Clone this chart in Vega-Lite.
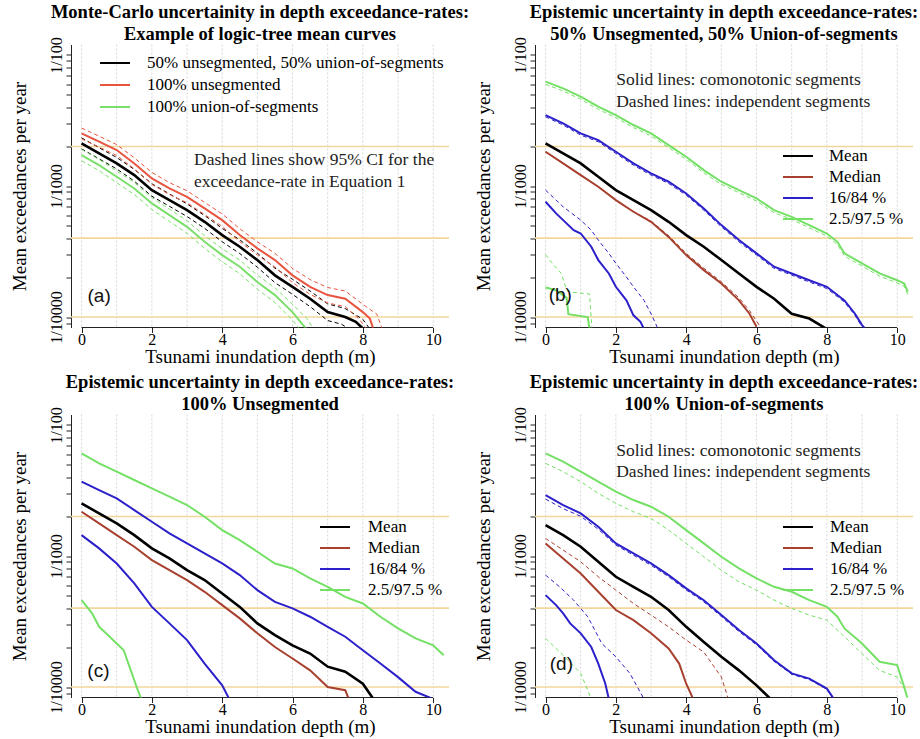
{
"$schema": "https://vega.github.io/schema/vega-lite/v6.json",
"background": "white",
"padding": {"left": 10, "top": 2.5, "right": 5, "bottom": 5},
"config": {
  "view": {"stroke": null},
  "font": "Liberation Serif",
  "title": {"font": "Liberation Serif", "fontSize": 18.5, "fontWeight": "bold", "anchor": "middle", "frame": "group", "offset": -7, "color": "#000",
            "subtitleFont": "Liberation Serif", "subtitleFontSize": 18.5, "subtitleFontWeight": "bold", "subtitleColor": "#000", "subtitlePadding": 3.5},
  "axis": {"labelFont": "Liberation Serif", "titleFont": "Liberation Serif", "domainColor": "#222", "tickColor": "#222", "labelColor": "#000", "titleColor": "#000", "titleFontWeight": "normal", "grid": false},
  "legend": {"labelFont": "Liberation Serif", "labelFontSize": 17, "labelColor": "#000", "symbolType": "stroke", "symbolSize": 900, "symbolStrokeWidth": 2, "rowPadding": 0, "padding": 0, "symbolOffset": 0, "labelLimit": 500}
},
"datasets": {
  "grid": [{"x":0},{"x":1},{"x":2},{"x":3},{"x":4},{"x":5},{"x":6},{"x":7},{"x":8},{"x":9},{"x":10}],
  "hl": [{"y":0.002},{"y":0.0004},{"y":0.0001}],
  "xl": [{"x":0,"x2":10}],
  "txt": [
    {"p":"a","x":3.2,"y":0.00158,"t":"Dashed lines show 95% CI for the"},
    {"p":"a","x":3.2,"y":0.001073,"t":"exceedance-rate in Equation 1"},
    {"p":"b","x":2.01,"y":0.00644,"t":"Solid lines: comonotonic segments"},
    {"p":"b","x":2.01,"y":0.0044,"t":"Dashed lines: independent segments"},
    {"p":"d","x":2.01,"y":0.00634,"t":"Solid lines: comonotonic segments"},
    {"p":"d","x":2.01,"y":0.00434,"t":"Dashed lines: independent segments"}
  ],
  "lab": [
    {"p":"a","x":0.5,"y":0.000145,"t":"(a)"},
    {"p":"b","x":0.42,"y":0.000147,"t":"(b)"},
    {"p":"c","x":0.48,"y":0.000132,"t":"(c)"},
    {"p":"d","x":0.45,"y":0.000149,"t":"(d)"}
  ],
  "a": [
    {"c":"m0","s":"m","k":"s","x":0,"y":0.002115},{"c":"m0","s":"m","k":"s","x":0.5,"y":0.001774},{"c":"m0","s":"m","k":"s","x":1,"y":0.001487},{"c":"m0","s":"m","k":"s","x":1.5,"y":0.001212},{"c":"m0","s":"m","k":"s","x":2,"y":0.00093},{"c":"m0","s":"m","k":"s","x":2.5,"y":0.00078},{"c":"m0","s":"m","k":"s","x":3,"y":0.000655},{"c":"m0","s":"m","k":"s","x":3.5,"y":0.000533},{"c":"m0","s":"m","k":"s","x":4,"y":0.000422},{"c":"m0","s":"m","k":"s","x":4.5,"y":0.000344},{"c":"m0","s":"m","k":"s","x":5,"y":0.000272},{"c":"m0","s":"m","k":"s","x":5.5,"y":0.000208},{"c":"m0","s":"m","k":"s","x":6,"y":0.00017},{"c":"m0","s":"m","k":"s","x":6.5,"y":0.000138},{"c":"m0","s":"m","k":"s","x":7,"y":0.000109},{"c":"m0","s":"m","k":"s","x":7.5,"y":0.0001},{"c":"m0","s":"m","k":"s","x":7.8,"y":0.000092},{"c":"m0","s":"m","k":"s","x":8,"y":0.0000818},
    {"c":"m1","s":"m","k":"d","x":0,"y":0.00233},{"c":"m1","s":"m","k":"d","x":0.5,"y":0.00196},{"c":"m1","s":"m","k":"d","x":1,"y":0.00165},{"c":"m1","s":"m","k":"d","x":1.5,"y":0.00134},{"c":"m1","s":"m","k":"d","x":2,"y":0.00104},{"c":"m1","s":"m","k":"d","x":2.5,"y":0.00087},{"c":"m1","s":"m","k":"d","x":3,"y":0.00073},{"c":"m1","s":"m","k":"d","x":3.5,"y":0.000595},{"c":"m1","s":"m","k":"d","x":4,"y":0.000475},{"c":"m1","s":"m","k":"d","x":4.5,"y":0.000388},{"c":"m1","s":"m","k":"d","x":5,"y":0.000307},{"c":"m1","s":"m","k":"d","x":5.5,"y":0.000236},{"c":"m1","s":"m","k":"d","x":6,"y":0.000194},{"c":"m1","s":"m","k":"d","x":6.5,"y":0.000158},{"c":"m1","s":"m","k":"d","x":7,"y":0.000126},{"c":"m1","s":"m","k":"d","x":7.5,"y":0.000116},{"c":"m1","s":"m","k":"d","x":8,"y":0.000096},{"c":"m1","s":"m","k":"d","x":8.2,"y":0.000081},
    {"c":"m2","s":"m","k":"d","x":0,"y":0.00192},{"c":"m2","s":"m","k":"d","x":0.5,"y":0.00161},{"c":"m2","s":"m","k":"d","x":1,"y":0.00135},{"c":"m2","s":"m","k":"d","x":1.5,"y":0.00109},{"c":"m2","s":"m","k":"d","x":2,"y":0.000835},{"c":"m2","s":"m","k":"d","x":2.5,"y":0.0007},{"c":"m2","s":"m","k":"d","x":3,"y":0.000585},{"c":"m2","s":"m","k":"d","x":3.5,"y":0.000475},{"c":"m2","s":"m","k":"d","x":4,"y":0.000375},{"c":"m2","s":"m","k":"d","x":4.5,"y":0.000305},{"c":"m2","s":"m","k":"d","x":5,"y":0.00024},{"c":"m2","s":"m","k":"d","x":5.5,"y":0.000183},{"c":"m2","s":"m","k":"d","x":6,"y":0.000149},{"c":"m2","s":"m","k":"d","x":6.5,"y":0.00012},{"c":"m2","s":"m","k":"d","x":7,"y":0.000094},{"c":"m2","s":"m","k":"d","x":7.4,"y":0.000088},{"c":"m2","s":"m","k":"d","x":7.6,"y":0.000081},
    {"c":"u0","s":"u","k":"s","x":0,"y":0.002522},{"c":"u0","s":"u","k":"s","x":0.5,"y":0.002178},{"c":"u0","s":"u","k":"s","x":1,"y":0.001881},{"c":"u0","s":"u","k":"s","x":1.5,"y":0.001487},{"c":"u0","s":"u","k":"s","x":2,"y":0.001143},{"c":"u0","s":"u","k":"s","x":2.5,"y":0.000958},{"c":"u0","s":"u","k":"s","x":3,"y":0.000827},{"c":"u0","s":"u","k":"s","x":3.5,"y":0.000674},{"c":"u0","s":"u","k":"s","x":4,"y":0.000549},{"c":"u0","s":"u","k":"s","x":4.5,"y":0.000422},{"c":"u0","s":"u","k":"s","x":5,"y":0.000334},{"c":"u0","s":"u","k":"s","x":5.5,"y":0.000272},{"c":"u0","s":"u","k":"s","x":6,"y":0.000208},{"c":"u0","s":"u","k":"s","x":6.5,"y":0.00017},{"c":"u0","s":"u","k":"s","x":7,"y":0.000147},{"c":"u0","s":"u","k":"s","x":7.5,"y":0.000138},{"c":"u0","s":"u","k":"s","x":8,"y":0.000109},{"c":"u0","s":"u","k":"s","x":8.2,"y":0.0000973},{"c":"u0","s":"u","k":"s","x":8.3,"y":0.000081},
    {"c":"u1","s":"u","k":"d","x":0,"y":0.00277},{"c":"u1","s":"u","k":"d","x":0.5,"y":0.0024},{"c":"u1","s":"u","k":"d","x":1,"y":0.00207},{"c":"u1","s":"u","k":"d","x":1.5,"y":0.00164},{"c":"u1","s":"u","k":"d","x":2,"y":0.00127},{"c":"u1","s":"u","k":"d","x":2.5,"y":0.00106},{"c":"u1","s":"u","k":"d","x":3,"y":0.00092},{"c":"u1","s":"u","k":"d","x":3.5,"y":0.00075},{"c":"u1","s":"u","k":"d","x":4,"y":0.000612},{"c":"u1","s":"u","k":"d","x":4.5,"y":0.000472},{"c":"u1","s":"u","k":"d","x":5,"y":0.000375},{"c":"u1","s":"u","k":"d","x":5.5,"y":0.000306},{"c":"u1","s":"u","k":"d","x":6,"y":0.000235},{"c":"u1","s":"u","k":"d","x":6.5,"y":0.000193},{"c":"u1","s":"u","k":"d","x":7,"y":0.000168},{"c":"u1","s":"u","k":"d","x":7.5,"y":0.000158},{"c":"u1","s":"u","k":"d","x":8,"y":0.000125},{"c":"u1","s":"u","k":"d","x":8.4,"y":0.000105},{"c":"u1","s":"u","k":"d","x":8.55,"y":0.000081},
    {"c":"u2","s":"u","k":"d","x":0,"y":0.00229},{"c":"u2","s":"u","k":"d","x":0.5,"y":0.00198},{"c":"u2","s":"u","k":"d","x":1,"y":0.00171},{"c":"u2","s":"u","k":"d","x":1.5,"y":0.00135},{"c":"u2","s":"u","k":"d","x":2,"y":0.00103},{"c":"u2","s":"u","k":"d","x":2.5,"y":0.00086},{"c":"u2","s":"u","k":"d","x":3,"y":0.000745},{"c":"u2","s":"u","k":"d","x":3.5,"y":0.000605},{"c":"u2","s":"u","k":"d","x":4,"y":0.000492},{"c":"u2","s":"u","k":"d","x":4.5,"y":0.000376},{"c":"u2","s":"u","k":"d","x":5,"y":0.000297},{"c":"u2","s":"u","k":"d","x":5.5,"y":0.000241},{"c":"u2","s":"u","k":"d","x":6,"y":0.000183},{"c":"u2","s":"u","k":"d","x":6.5,"y":0.000149},{"c":"u2","s":"u","k":"d","x":7,"y":0.000128},{"c":"u2","s":"u","k":"d","x":7.5,"y":0.00012},{"c":"u2","s":"u","k":"d","x":7.9,"y":0.000096},{"c":"u2","s":"u","k":"d","x":8.1,"y":0.000081},
    {"c":"g0","s":"g","k":"s","x":0,"y":0.001722},{"c":"g0","s":"g","k":"s","x":0.5,"y":0.001444},{"c":"g0","s":"g","k":"s","x":1,"y":0.001177},{"c":"g0","s":"g","k":"s","x":1.5,"y":0.000958},{"c":"g0","s":"g","k":"s","x":2,"y":0.000736},{"c":"g0","s":"g","k":"s","x":2.5,"y":0.0006},{"c":"g0","s":"g","k":"s","x":3,"y":0.000488},{"c":"g0","s":"g","k":"s","x":3.5,"y":0.000375},{"c":"g0","s":"g","k":"s","x":4,"y":0.000297},{"c":"g0","s":"g","k":"s","x":4.5,"y":0.000242},{"c":"g0","s":"g","k":"s","x":5,"y":0.000185},{"c":"g0","s":"g","k":"s","x":5.5,"y":0.000147},{"c":"g0","s":"g","k":"s","x":6,"y":0.000109},{"c":"g0","s":"g","k":"s","x":6.3,"y":0.0000868},{"c":"g0","s":"g","k":"s","x":6.4,"y":0.000081},
    {"c":"g1","s":"g","k":"d","x":0,"y":0.0019},{"c":"g1","s":"g","k":"d","x":0.5,"y":0.00159},{"c":"g1","s":"g","k":"d","x":1,"y":0.0013},{"c":"g1","s":"g","k":"d","x":1.5,"y":0.00106},{"c":"g1","s":"g","k":"d","x":2,"y":0.000815},{"c":"g1","s":"g","k":"d","x":2.5,"y":0.000665},{"c":"g1","s":"g","k":"d","x":3,"y":0.000543},{"c":"g1","s":"g","k":"d","x":3.5,"y":0.000418},{"c":"g1","s":"g","k":"d","x":4,"y":0.000332},{"c":"g1","s":"g","k":"d","x":4.5,"y":0.000272},{"c":"g1","s":"g","k":"d","x":5,"y":0.000209},{"c":"g1","s":"g","k":"d","x":5.5,"y":0.000167},{"c":"g1","s":"g","k":"d","x":6,"y":0.000125},{"c":"g1","s":"g","k":"d","x":6.4,"y":0.000098},{"c":"g1","s":"g","k":"d","x":6.6,"y":0.000081},
    {"c":"g2","s":"g","k":"d","x":0,"y":0.00156},{"c":"g2","s":"g","k":"d","x":0.5,"y":0.00131},{"c":"g2","s":"g","k":"d","x":1,"y":0.00106},{"c":"g2","s":"g","k":"d","x":1.5,"y":0.000862},{"c":"g2","s":"g","k":"d","x":2,"y":0.00066},{"c":"g2","s":"g","k":"d","x":2.5,"y":0.000537},{"c":"g2","s":"g","k":"d","x":3,"y":0.000436},{"c":"g2","s":"g","k":"d","x":3.5,"y":0.000334},{"c":"g2","s":"g","k":"d","x":4,"y":0.000264},{"c":"g2","s":"g","k":"d","x":4.5,"y":0.000214},{"c":"g2","s":"g","k":"d","x":5,"y":0.000163},{"c":"g2","s":"g","k":"d","x":5.5,"y":0.000129},{"c":"g2","s":"g","k":"d","x":6,"y":0.000095},{"c":"g2","s":"g","k":"d","x":6.2,"y":0.000081}
  ],
  "b": [
    {"c":"G1","s":"2.5/97.5 %","k":"s","x":0,"y":0.006257},{"c":"G1","s":"2.5/97.5 %","k":"s","x":0.5,"y":0.005564},{"c":"G1","s":"2.5/97.5 %","k":"s","x":1,"y":0.004806},{"c":"G1","s":"2.5/97.5 %","k":"s","x":1.5,"y":0.00403},{"c":"G1","s":"2.5/97.5 %","k":"s","x":2,"y":0.003481},{"c":"G1","s":"2.5/97.5 %","k":"s","x":2.5,"y":0.00292},{"c":"G1","s":"2.5/97.5 %","k":"s","x":3,"y":0.002522},{"c":"G1","s":"2.5/97.5 %","k":"s","x":3.5,"y":0.002054},{"c":"G1","s":"2.5/97.5 %","k":"s","x":4,"y":0.001672},{"c":"G1","s":"2.5/97.5 %","k":"s","x":4.5,"y":0.001323},{"c":"G1","s":"2.5/97.5 %","k":"s","x":5,"y":0.001078},{"c":"G1","s":"2.5/97.5 %","k":"s","x":5.5,"y":0.00093},{"c":"G1","s":"2.5/97.5 %","k":"s","x":6,"y":0.000804},{"c":"G1","s":"2.5/97.5 %","k":"s","x":6.5,"y":0.000655},{"c":"G1","s":"2.5/97.5 %","k":"s","x":7,"y":0.000582},{"c":"G1","s":"2.5/97.5 %","k":"s","x":7.5,"y":0.000503},{"c":"G1","s":"2.5/97.5 %","k":"s","x":8,"y":0.000434},{"c":"G1","s":"2.5/97.5 %","k":"s","x":8.3,"y":0.000375},{"c":"G1","s":"2.5/97.5 %","k":"s","x":8.5,"y":0.000306},{"c":"G1","s":"2.5/97.5 %","k":"s","x":9,"y":0.000257},{"c":"G1","s":"2.5/97.5 %","k":"s","x":9.5,"y":0.000215},{"c":"G1","s":"2.5/97.5 %","k":"s","x":10,"y":0.000191},{"c":"G1","s":"2.5/97.5 %","k":"s","x":10.2,"y":0.00018},{"c":"G1","s":"2.5/97.5 %","k":"s","x":10.3,"y":0.000156},
    {"c":"G1d","s":"2.5/97.5 %","k":"d","x":0,"y":0.00598},{"c":"G1d","s":"2.5/97.5 %","k":"d","x":0.5,"y":0.00532},{"c":"G1d","s":"2.5/97.5 %","k":"d","x":1,"y":0.00459},{"c":"G1d","s":"2.5/97.5 %","k":"d","x":1.5,"y":0.00385},{"c":"G1d","s":"2.5/97.5 %","k":"d","x":2,"y":0.00332},{"c":"G1d","s":"2.5/97.5 %","k":"d","x":2.5,"y":0.00279},{"c":"G1d","s":"2.5/97.5 %","k":"d","x":3,"y":0.00241},{"c":"G1d","s":"2.5/97.5 %","k":"d","x":3.5,"y":0.00196},{"c":"G1d","s":"2.5/97.5 %","k":"d","x":4,"y":0.0016},{"c":"G1d","s":"2.5/97.5 %","k":"d","x":4.5,"y":0.00126},{"c":"G1d","s":"2.5/97.5 %","k":"d","x":5,"y":0.00103},{"c":"G1d","s":"2.5/97.5 %","k":"d","x":5.5,"y":0.000888},{"c":"G1d","s":"2.5/97.5 %","k":"d","x":6,"y":0.000768},{"c":"G1d","s":"2.5/97.5 %","k":"d","x":6.5,"y":0.000625},{"c":"G1d","s":"2.5/97.5 %","k":"d","x":7,"y":0.000556},{"c":"G1d","s":"2.5/97.5 %","k":"d","x":7.5,"y":0.00048},{"c":"G1d","s":"2.5/97.5 %","k":"d","x":8,"y":0.000414},{"c":"G1d","s":"2.5/97.5 %","k":"d","x":8.3,"y":0.000358},{"c":"G1d","s":"2.5/97.5 %","k":"d","x":8.5,"y":0.000292},{"c":"G1d","s":"2.5/97.5 %","k":"d","x":9,"y":0.000245},{"c":"G1d","s":"2.5/97.5 %","k":"d","x":9.5,"y":0.000205},{"c":"G1d","s":"2.5/97.5 %","k":"d","x":10,"y":0.000182},{"c":"G1d","s":"2.5/97.5 %","k":"d","x":10.2,"y":0.000172},{"c":"G1d","s":"2.5/97.5 %","k":"d","x":10.3,"y":0.000149},
    {"c":"B1","s":"16/84 %","k":"s","x":0,"y":0.003481},{"c":"B1","s":"16/84 %","k":"s","x":0.5,"y":0.003007},{"c":"B1","s":"16/84 %","k":"s","x":1,"y":0.002522},{"c":"B1","s":"16/84 %","k":"s","x":1.5,"y":0.002242},{"c":"B1","s":"16/84 %","k":"s","x":2,"y":0.001827},{"c":"B1","s":"16/84 %","k":"s","x":2.5,"y":0.001487},{"c":"B1","s":"16/84 %","k":"s","x":3,"y":0.001248},{"c":"B1","s":"16/84 %","k":"s","x":3.5,"y":0.001078},{"c":"B1","s":"16/84 %","k":"s","x":4,"y":0.000877},{"c":"B1","s":"16/84 %","k":"s","x":4.5,"y":0.000674},{"c":"B1","s":"16/84 %","k":"s","x":5,"y":0.000503},{"c":"B1","s":"16/84 %","k":"s","x":5.5,"y":0.000387},{"c":"B1","s":"16/84 %","k":"s","x":6,"y":0.000306},{"c":"B1","s":"16/84 %","k":"s","x":6.5,"y":0.000242},{"c":"B1","s":"16/84 %","k":"s","x":7,"y":0.000215},{"c":"B1","s":"16/84 %","k":"s","x":7.5,"y":0.000191},{"c":"B1","s":"16/84 %","k":"s","x":8,"y":0.00017},{"c":"B1","s":"16/84 %","k":"s","x":8.5,"y":0.000134},{"c":"B1","s":"16/84 %","k":"s","x":8.8,"y":0.000106},{"c":"B1","s":"16/84 %","k":"s","x":9,"y":0.0000868},{"c":"B1","s":"16/84 %","k":"s","x":9.1,"y":0.000081},
    {"c":"B1d","s":"16/84 %","k":"d","x":0,"y":0.003377},{"c":"B1d","s":"16/84 %","k":"d","x":0.5,"y":0.002917},{"c":"B1d","s":"16/84 %","k":"d","x":1,"y":0.002446},{"c":"B1d","s":"16/84 %","k":"d","x":1.5,"y":0.002175},{"c":"B1d","s":"16/84 %","k":"d","x":2,"y":0.001772},{"c":"B1d","s":"16/84 %","k":"d","x":2.5,"y":0.001442},{"c":"B1d","s":"16/84 %","k":"d","x":3,"y":0.001211},{"c":"B1d","s":"16/84 %","k":"d","x":3.5,"y":0.001046},{"c":"B1d","s":"16/84 %","k":"d","x":4,"y":0.000851},{"c":"B1d","s":"16/84 %","k":"d","x":4.5,"y":0.000654},{"c":"B1d","s":"16/84 %","k":"d","x":5,"y":0.000488},{"c":"B1d","s":"16/84 %","k":"d","x":5.5,"y":0.000375},{"c":"B1d","s":"16/84 %","k":"d","x":6,"y":0.000297},{"c":"B1d","s":"16/84 %","k":"d","x":6.5,"y":0.000235},{"c":"B1d","s":"16/84 %","k":"d","x":7,"y":0.000209},{"c":"B1d","s":"16/84 %","k":"d","x":7.5,"y":0.000185},{"c":"B1d","s":"16/84 %","k":"d","x":8,"y":0.000165},{"c":"B1d","s":"16/84 %","k":"d","x":8.5,"y":0.00013},{"c":"B1d","s":"16/84 %","k":"d","x":8.8,"y":0.000103},{"c":"B1d","s":"16/84 %","k":"d","x":9,"y":0.0000842},{"c":"B1d","s":"16/84 %","k":"d","x":9.1,"y":0.00008},
    {"c":"M","s":"Mean","k":"s","x":0,"y":0.002115},{"c":"M","s":"Mean","k":"s","x":0.5,"y":0.001774},{"c":"M","s":"Mean","k":"s","x":1,"y":0.001487},{"c":"M","s":"Mean","k":"s","x":1.5,"y":0.001177},{"c":"M","s":"Mean","k":"s","x":2,"y":0.00093},{"c":"M","s":"Mean","k":"s","x":2.5,"y":0.00078},{"c":"M","s":"Mean","k":"s","x":3,"y":0.000655},{"c":"M","s":"Mean","k":"s","x":3.5,"y":0.000533},{"c":"M","s":"Mean","k":"s","x":4,"y":0.000422},{"c":"M","s":"Mean","k":"s","x":4.5,"y":0.000344},{"c":"M","s":"Mean","k":"s","x":5,"y":0.000272},{"c":"M","s":"Mean","k":"s","x":5.5,"y":0.000215},{"c":"M","s":"Mean","k":"s","x":6,"y":0.00017},{"c":"M","s":"Mean","k":"s","x":6.5,"y":0.000138},{"c":"M","s":"Mean","k":"s","x":7,"y":0.000106},{"c":"M","s":"Mean","k":"s","x":7.5,"y":0.0000973},{"c":"M","s":"Mean","k":"s","x":8,"y":0.000081},
    {"c":"D","s":"Median","k":"s","x":0,"y":0.001827},{"c":"D","s":"Median","k":"s","x":0.5,"y":0.001487},{"c":"D","s":"Median","k":"s","x":1,"y":0.001212},{"c":"D","s":"Median","k":"s","x":1.5,"y":0.000987},{"c":"D","s":"Median","k":"s","x":2,"y":0.00078},{"c":"D","s":"Median","k":"s","x":2.5,"y":0.000636},{"c":"D","s":"Median","k":"s","x":3,"y":0.000533},{"c":"D","s":"Median","k":"s","x":3.5,"y":0.000409},{"c":"D","s":"Median","k":"s","x":4,"y":0.000297},{"c":"D","s":"Median","k":"s","x":4.5,"y":0.000228},{"c":"D","s":"Median","k":"s","x":5,"y":0.00018},{"c":"D","s":"Median","k":"s","x":5.5,"y":0.000134},{"c":"D","s":"Median","k":"s","x":5.8,"y":0.000106},{"c":"D","s":"Median","k":"s","x":6,"y":0.0000843},
    {"c":"Dd","s":"Median","k":"d","x":0,"y":0.001827},{"c":"Dd","s":"Median","k":"d","x":0.5,"y":0.001487},{"c":"Dd","s":"Median","k":"d","x":1,"y":0.001212},{"c":"Dd","s":"Median","k":"d","x":1.5,"y":0.000987},{"c":"Dd","s":"Median","k":"d","x":2,"y":0.00078},{"c":"Dd","s":"Median","k":"d","x":2.5,"y":0.000636},{"c":"Dd","s":"Median","k":"d","x":3,"y":0.00054},{"c":"Dd","s":"Median","k":"d","x":3.5,"y":0.000418},{"c":"Dd","s":"Median","k":"d","x":4,"y":0.000306},{"c":"Dd","s":"Median","k":"d","x":4.5,"y":0.000236},{"c":"Dd","s":"Median","k":"d","x":5,"y":0.000186},{"c":"Dd","s":"Median","k":"d","x":5.5,"y":0.00014},{"c":"Dd","s":"Median","k":"d","x":5.8,"y":0.000112},{"c":"Dd","s":"Median","k":"d","x":6.1,"y":0.000085},
    {"c":"B2","s":"16/84 %","k":"s","x":0,"y":0.000758},{"c":"B2","s":"16/84 %","k":"s","x":0.3,"y":0.000618},{"c":"B2","s":"16/84 %","k":"s","x":0.5,"y":0.000549},{"c":"B2","s":"16/84 %","k":"s","x":0.8,"y":0.00046},{"c":"B2","s":"16/84 %","k":"s","x":1,"y":0.000434},{"c":"B2","s":"16/84 %","k":"s","x":1.3,"y":0.000344},{"c":"B2","s":"16/84 %","k":"s","x":1.5,"y":0.000272},{"c":"B2","s":"16/84 %","k":"s","x":1.8,"y":0.000215},{"c":"B2","s":"16/84 %","k":"s","x":2,"y":0.00017},{"c":"B2","s":"16/84 %","k":"s","x":2.3,"y":0.000134},{"c":"B2","s":"16/84 %","k":"s","x":2.5,"y":0.000103},{"c":"B2","s":"16/84 %","k":"s","x":2.7,"y":0.000092},{"c":"B2","s":"16/84 %","k":"s","x":2.8,"y":0.000081},
    {"c":"B2d","s":"16/84 %","k":"d","x":0,"y":0.00093},{"c":"B2d","s":"16/84 %","k":"d","x":0.3,"y":0.00078},{"c":"B2d","s":"16/84 %","k":"d","x":0.5,"y":0.000694},{"c":"B2d","s":"16/84 %","k":"d","x":1,"y":0.000549},{"c":"B2d","s":"16/84 %","k":"d","x":1.3,"y":0.00046},{"c":"B2d","s":"16/84 %","k":"d","x":1.5,"y":0.000387},{"c":"B2d","s":"16/84 %","k":"d","x":1.8,"y":0.000306},{"c":"B2d","s":"16/84 %","k":"d","x":2,"y":0.000257},{"c":"B2d","s":"16/84 %","k":"d","x":2.3,"y":0.000202},{"c":"B2d","s":"16/84 %","k":"d","x":2.5,"y":0.00017},{"c":"B2d","s":"16/84 %","k":"d","x":2.8,"y":0.000134},{"c":"B2d","s":"16/84 %","k":"d","x":3,"y":0.000106},{"c":"B2d","s":"16/84 %","k":"d","x":3.2,"y":0.000081},
    {"c":"G2","s":"2.5/97.5 %","k":"s","x":0,"y":0.000168},{"c":"G2","s":"2.5/97.5 %","k":"s","x":0.3,"y":0.00016},{"c":"G2","s":"2.5/97.5 %","k":"s","x":0.6,"y":0.00014},{"c":"G2","s":"2.5/97.5 %","k":"s","x":0.65,"y":0.000105},{"c":"G2","s":"2.5/97.5 %","k":"s","x":1.2,"y":0.0001},{"c":"G2","s":"2.5/97.5 %","k":"s","x":1.25,"y":0.000081},
    {"c":"G2d","s":"2.5/97.5 %","k":"d","x":0,"y":0.0003},{"c":"G2d","s":"2.5/97.5 %","k":"d","x":0.2,"y":0.000255},{"c":"G2d","s":"2.5/97.5 %","k":"d","x":0.45,"y":0.000215},{"c":"G2d","s":"2.5/97.5 %","k":"d","x":0.6,"y":0.00016},{"c":"G2d","s":"2.5/97.5 %","k":"d","x":0.7,"y":0.000155},{"c":"G2d","s":"2.5/97.5 %","k":"d","x":1.25,"y":0.00015},{"c":"G2d","s":"2.5/97.5 %","k":"d","x":1.32,"y":0.000081}
  ],
  "c": [
    {"c":"G1","s":"2.5/97.5 %","k":"s","x":0,"y":0.006076},{"c":"G1","s":"2.5/97.5 %","k":"s","x":0.5,"y":0.005096},{"c":"G1","s":"2.5/97.5 %","k":"s","x":1,"y":0.004402},{"c":"G1","s":"2.5/97.5 %","k":"s","x":1.5,"y":0.003801},{"c":"G1","s":"2.5/97.5 %","k":"s","x":2,"y":0.003283},{"c":"G1","s":"2.5/97.5 %","k":"s","x":2.5,"y":0.002836},{"c":"G1","s":"2.5/97.5 %","k":"s","x":3,"y":0.002449},{"c":"G1","s":"2.5/97.5 %","k":"s","x":3.5,"y":0.001994},{"c":"G1","s":"2.5/97.5 %","k":"s","x":4,"y":0.001577},{"c":"G1","s":"2.5/97.5 %","k":"s","x":4.5,"y":0.001323},{"c":"G1","s":"2.5/97.5 %","k":"s","x":5,"y":0.001078},{"c":"G1","s":"2.5/97.5 %","k":"s","x":5.5,"y":0.000877},{"c":"G1","s":"2.5/97.5 %","k":"s","x":6,"y":0.000804},{"c":"G1","s":"2.5/97.5 %","k":"s","x":6.5,"y":0.000674},{"c":"G1","s":"2.5/97.5 %","k":"s","x":7,"y":0.000582},{"c":"G1","s":"2.5/97.5 %","k":"s","x":7.5,"y":0.000488},{"c":"G1","s":"2.5/97.5 %","k":"s","x":8,"y":0.000434},{"c":"G1","s":"2.5/97.5 %","k":"s","x":8.5,"y":0.000344},{"c":"G1","s":"2.5/97.5 %","k":"s","x":9,"y":0.00028},{"c":"G1","s":"2.5/97.5 %","k":"s","x":9.5,"y":0.000235},{"c":"G1","s":"2.5/97.5 %","k":"s","x":10,"y":0.000208},{"c":"G1","s":"2.5/97.5 %","k":"s","x":10.3,"y":0.000175},
    {"c":"B1","s":"16/84 %","k":"s","x":0,"y":0.003691},{"c":"B1","s":"16/84 %","k":"s","x":0.5,"y":0.003188},{"c":"B1","s":"16/84 %","k":"s","x":1,"y":0.002754},{"c":"B1","s":"16/84 %","k":"s","x":1.5,"y":0.002242},{"c":"B1","s":"16/84 %","k":"s","x":2,"y":0.001827},{"c":"B1","s":"16/84 %","k":"s","x":2.5,"y":0.001487},{"c":"B1","s":"16/84 %","k":"s","x":3,"y":0.001248},{"c":"B1","s":"16/84 %","k":"s","x":3.5,"y":0.001047},{"c":"B1","s":"16/84 %","k":"s","x":4,"y":0.000877},{"c":"B1","s":"16/84 %","k":"s","x":4.5,"y":0.000715},{"c":"B1","s":"16/84 %","k":"s","x":5,"y":0.000549},{"c":"B1","s":"16/84 %","k":"s","x":5.5,"y":0.000447},{"c":"B1","s":"16/84 %","k":"s","x":6,"y":0.000398},{"c":"B1","s":"16/84 %","k":"s","x":6.5,"y":0.000344},{"c":"B1","s":"16/84 %","k":"s","x":7,"y":0.000288},{"c":"B1","s":"16/84 %","k":"s","x":7.5,"y":0.000242},{"c":"B1","s":"16/84 %","k":"s","x":8,"y":0.000191},{"c":"B1","s":"16/84 %","k":"s","x":8.5,"y":0.000151},{"c":"B1","s":"16/84 %","k":"s","x":9,"y":0.000119},{"c":"B1","s":"16/84 %","k":"s","x":9.5,"y":0.000092},{"c":"B1","s":"16/84 %","k":"s","x":10,"y":0.000081},
    {"c":"M","s":"Mean","k":"s","x":0,"y":0.002522},{"c":"M","s":"Mean","k":"s","x":0.5,"y":0.002115},{"c":"M","s":"Mean","k":"s","x":1,"y":0.001774},{"c":"M","s":"Mean","k":"s","x":1.5,"y":0.001444},{"c":"M","s":"Mean","k":"s","x":2,"y":0.001143},{"c":"M","s":"Mean","k":"s","x":2.5,"y":0.000958},{"c":"M","s":"Mean","k":"s","x":3,"y":0.00078},{"c":"M","s":"Mean","k":"s","x":3.5,"y":0.000655},{"c":"M","s":"Mean","k":"s","x":4,"y":0.000518},{"c":"M","s":"Mean","k":"s","x":4.5,"y":0.000409},{"c":"M","s":"Mean","k":"s","x":5,"y":0.000306},{"c":"M","s":"Mean","k":"s","x":5.5,"y":0.000249},{"c":"M","s":"Mean","k":"s","x":6,"y":0.000208},{"c":"M","s":"Mean","k":"s","x":6.5,"y":0.00018},{"c":"M","s":"Mean","k":"s","x":7,"y":0.000143},{"c":"M","s":"Mean","k":"s","x":7.5,"y":0.000131},{"c":"M","s":"Mean","k":"s","x":8,"y":0.000106},{"c":"M","s":"Mean","k":"s","x":8.3,"y":0.000081},
    {"c":"D","s":"Median","k":"s","x":0,"y":0.002178},{"c":"D","s":"Median","k":"s","x":0.5,"y":0.001774},{"c":"D","s":"Median","k":"s","x":1,"y":0.001444},{"c":"D","s":"Median","k":"s","x":1.5,"y":0.001177},{"c":"D","s":"Median","k":"s","x":2,"y":0.00093},{"c":"D","s":"Median","k":"s","x":2.5,"y":0.00078},{"c":"D","s":"Median","k":"s","x":3,"y":0.000655},{"c":"D","s":"Median","k":"s","x":3.5,"y":0.000533},{"c":"D","s":"Median","k":"s","x":4,"y":0.000422},{"c":"D","s":"Median","k":"s","x":4.5,"y":0.000334},{"c":"D","s":"Median","k":"s","x":5,"y":0.000257},{"c":"D","s":"Median","k":"s","x":5.5,"y":0.000202},{"c":"D","s":"Median","k":"s","x":6,"y":0.000165},{"c":"D","s":"Median","k":"s","x":6.5,"y":0.000134},{"c":"D","s":"Median","k":"s","x":7,"y":0.0001},{"c":"D","s":"Median","k":"s","x":7.5,"y":0.0000945},{"c":"D","s":"Median","k":"s","x":7.6,"y":0.000081},
    {"c":"B2","s":"16/84 %","k":"s","x":0,"y":0.001444},{"c":"B2","s":"16/84 %","k":"s","x":0.5,"y":0.001143},{"c":"B2","s":"16/84 %","k":"s","x":1,"y":0.000877},{"c":"B2","s":"16/84 %","k":"s","x":1.5,"y":0.000618},{"c":"B2","s":"16/84 %","k":"s","x":2,"y":0.000409},{"c":"B2","s":"16/84 %","k":"s","x":2.5,"y":0.000306},{"c":"B2","s":"16/84 %","k":"s","x":3,"y":0.000228},{"c":"B2","s":"16/84 %","k":"s","x":3.5,"y":0.000151},{"c":"B2","s":"16/84 %","k":"s","x":4,"y":0.000103},{"c":"B2","s":"16/84 %","k":"s","x":4.2,"y":0.000081},
    {"c":"G2","s":"2.5/97.5 %","k":"s","x":0,"y":0.00046},{"c":"G2","s":"2.5/97.5 %","k":"s","x":0.3,"y":0.000365},{"c":"G2","s":"2.5/97.5 %","k":"s","x":0.5,"y":0.000288},{"c":"G2","s":"2.5/97.5 %","k":"s","x":0.8,"y":0.000242},{"c":"G2","s":"2.5/97.5 %","k":"s","x":1,"y":0.000215},{"c":"G2","s":"2.5/97.5 %","k":"s","x":1.2,"y":0.000191},{"c":"G2","s":"2.5/97.5 %","k":"s","x":1.4,"y":0.000134},{"c":"G2","s":"2.5/97.5 %","k":"s","x":1.6,"y":0.0000945},{"c":"G2","s":"2.5/97.5 %","k":"s","x":1.7,"y":0.000081}
  ],
  "d": [
    {"c":"G1","s":"2.5/97.5 %","k":"s","x":0,"y":0.006076},{"c":"G1","s":"2.5/97.5 %","k":"s","x":0.5,"y":0.005247},{"c":"G1","s":"2.5/97.5 %","k":"s","x":1,"y":0.004402},{"c":"G1","s":"2.5/97.5 %","k":"s","x":1.5,"y":0.003691},{"c":"G1","s":"2.5/97.5 %","k":"s","x":2,"y":0.003096},{"c":"G1","s":"2.5/97.5 %","k":"s","x":2.5,"y":0.002674},{"c":"G1","s":"2.5/97.5 %","k":"s","x":3,"y":0.002378},{"c":"G1","s":"2.5/97.5 %","k":"s","x":3.5,"y":0.001994},{"c":"G1","s":"2.5/97.5 %","k":"s","x":4,"y":0.001577},{"c":"G1","s":"2.5/97.5 %","k":"s","x":4.5,"y":0.001248},{"c":"G1","s":"2.5/97.5 %","k":"s","x":5,"y":0.000987},{"c":"G1","s":"2.5/97.5 %","k":"s","x":5.5,"y":0.000804},{"c":"G1","s":"2.5/97.5 %","k":"s","x":6,"y":0.000674},{"c":"G1","s":"2.5/97.5 %","k":"s","x":6.5,"y":0.000582},{"c":"G1","s":"2.5/97.5 %","k":"s","x":7,"y":0.000533},{"c":"G1","s":"2.5/97.5 %","k":"s","x":7.5,"y":0.00046},{"c":"G1","s":"2.5/97.5 %","k":"s","x":8,"y":0.000409},{"c":"G1","s":"2.5/97.5 %","k":"s","x":8.3,"y":0.000344},{"c":"G1","s":"2.5/97.5 %","k":"s","x":8.5,"y":0.00028},{"c":"G1","s":"2.5/97.5 %","k":"s","x":9,"y":0.000215},{"c":"G1","s":"2.5/97.5 %","k":"s","x":9.5,"y":0.000156},{"c":"G1","s":"2.5/97.5 %","k":"s","x":10,"y":0.000147},{"c":"G1","s":"2.5/97.5 %","k":"s","x":10.2,"y":0.0001},{"c":"G1","s":"2.5/97.5 %","k":"s","x":10.3,"y":0.000081},
    {"c":"G1d","s":"2.5/97.5 %","k":"d","x":0,"y":0.005096},{"c":"G1d","s":"2.5/97.5 %","k":"d","x":0.5,"y":0.004402},{"c":"G1d","s":"2.5/97.5 %","k":"d","x":1,"y":0.003691},{"c":"G1d","s":"2.5/97.5 %","k":"d","x":1.5,"y":0.003007},{"c":"G1d","s":"2.5/97.5 %","k":"d","x":2,"y":0.002522},{"c":"G1d","s":"2.5/97.5 %","k":"d","x":2.5,"y":0.002178},{"c":"G1d","s":"2.5/97.5 %","k":"d","x":3,"y":0.001937},{"c":"G1d","s":"2.5/97.5 %","k":"d","x":3.5,"y":0.001577},{"c":"G1d","s":"2.5/97.5 %","k":"d","x":4,"y":0.001248},{"c":"G1d","s":"2.5/97.5 %","k":"d","x":4.5,"y":0.000987},{"c":"G1d","s":"2.5/97.5 %","k":"d","x":5,"y":0.00078},{"c":"G1d","s":"2.5/97.5 %","k":"d","x":5.5,"y":0.000636},{"c":"G1d","s":"2.5/97.5 %","k":"d","x":6,"y":0.000549},{"c":"G1d","s":"2.5/97.5 %","k":"d","x":6.5,"y":0.00046},{"c":"G1d","s":"2.5/97.5 %","k":"d","x":7,"y":0.000398},{"c":"G1d","s":"2.5/97.5 %","k":"d","x":7.5,"y":0.000354},{"c":"G1d","s":"2.5/97.5 %","k":"d","x":8,"y":0.000324},{"c":"G1d","s":"2.5/97.5 %","k":"d","x":8.5,"y":0.000242},{"c":"G1d","s":"2.5/97.5 %","k":"d","x":9,"y":0.00018},{"c":"G1d","s":"2.5/97.5 %","k":"d","x":9.5,"y":0.000134},{"c":"G1d","s":"2.5/97.5 %","k":"d","x":10,"y":0.000119},{"c":"G1d","s":"2.5/97.5 %","k":"d","x":10.2,"y":0.0000973},
    {"c":"B1","s":"16/84 %","k":"s","x":0,"y":0.00292},{"c":"B1","s":"16/84 %","k":"s","x":0.5,"y":0.002449},{"c":"B1","s":"16/84 %","k":"s","x":1,"y":0.002115},{"c":"B1","s":"16/84 %","k":"s","x":1.5,"y":0.001672},{"c":"B1","s":"16/84 %","k":"s","x":2,"y":0.001248},{"c":"B1","s":"16/84 %","k":"s","x":2.5,"y":0.001047},{"c":"B1","s":"16/84 %","k":"s","x":3,"y":0.000877},{"c":"B1","s":"16/84 %","k":"s","x":3.5,"y":0.000715},{"c":"B1","s":"16/84 %","k":"s","x":4,"y":0.000566},{"c":"B1","s":"16/84 %","k":"s","x":4.5,"y":0.00046},{"c":"B1","s":"16/84 %","k":"s","x":5,"y":0.000354},{"c":"B1","s":"16/84 %","k":"s","x":5.5,"y":0.000272},{"c":"B1","s":"16/84 %","k":"s","x":6,"y":0.000215},{"c":"B1","s":"16/84 %","k":"s","x":6.5,"y":0.00016},{"c":"B1","s":"16/84 %","k":"s","x":7,"y":0.000127},{"c":"B1","s":"16/84 %","k":"s","x":7.5,"y":0.000116},{"c":"B1","s":"16/84 %","k":"s","x":8,"y":0.0000973},{"c":"B1","s":"16/84 %","k":"s","x":8.2,"y":0.000081},
    {"c":"B1d","s":"16/84 %","k":"d","x":0,"y":0.00272},{"c":"B1d","s":"16/84 %","k":"d","x":0.5,"y":0.0023},{"c":"B1d","s":"16/84 %","k":"d","x":1,"y":0.00201},{"c":"B1d","s":"16/84 %","k":"d","x":1.5,"y":0.0016},{"c":"B1d","s":"16/84 %","k":"d","x":2,"y":0.00121},{"c":"B1d","s":"16/84 %","k":"d","x":2.5,"y":0.001015},{"c":"B1d","s":"16/84 %","k":"d","x":3,"y":0.00085},{"c":"B1d","s":"16/84 %","k":"d","x":3.5,"y":0.000695},{"c":"B1d","s":"16/84 %","k":"d","x":4,"y":0.00055},{"c":"B1d","s":"16/84 %","k":"d","x":4.5,"y":0.000447},{"c":"B1d","s":"16/84 %","k":"d","x":5,"y":0.000345},{"c":"B1d","s":"16/84 %","k":"d","x":5.5,"y":0.000265},{"c":"B1d","s":"16/84 %","k":"d","x":6,"y":0.00021},{"c":"B1d","s":"16/84 %","k":"d","x":6.5,"y":0.000157},{"c":"B1d","s":"16/84 %","k":"d","x":7,"y":0.000125},{"c":"B1d","s":"16/84 %","k":"d","x":7.5,"y":0.000114},{"c":"B1d","s":"16/84 %","k":"d","x":8,"y":0.000096},{"c":"B1d","s":"16/84 %","k":"d","x":8.2,"y":0.000081},
    {"c":"M","s":"Mean","k":"s","x":0,"y":0.001722},{"c":"M","s":"Mean","k":"s","x":0.5,"y":0.001444},{"c":"M","s":"Mean","k":"s","x":1,"y":0.001177},{"c":"M","s":"Mean","k":"s","x":1.5,"y":0.000903},{"c":"M","s":"Mean","k":"s","x":2,"y":0.000694},{"c":"M","s":"Mean","k":"s","x":2.5,"y":0.000582},{"c":"M","s":"Mean","k":"s","x":3,"y":0.000488},{"c":"M","s":"Mean","k":"s","x":3.5,"y":0.000387},{"c":"M","s":"Mean","k":"s","x":4,"y":0.000288},{"c":"M","s":"Mean","k":"s","x":4.5,"y":0.000221},{"c":"M","s":"Mean","k":"s","x":5,"y":0.00017},{"c":"M","s":"Mean","k":"s","x":5.5,"y":0.000134},{"c":"M","s":"Mean","k":"s","x":6,"y":0.000103},{"c":"M","s":"Mean","k":"s","x":6.4,"y":0.000081},
    {"c":"D","s":"Median","k":"s","x":0,"y":0.001248},{"c":"D","s":"Median","k":"s","x":0.5,"y":0.000958},{"c":"D","s":"Median","k":"s","x":1,"y":0.000736},{"c":"D","s":"Median","k":"s","x":1.5,"y":0.000533},{"c":"D","s":"Median","k":"s","x":2,"y":0.000387},{"c":"D","s":"Median","k":"s","x":2.5,"y":0.000324},{"c":"D","s":"Median","k":"s","x":3,"y":0.000257},{"c":"D","s":"Median","k":"s","x":3.5,"y":0.000197},{"c":"D","s":"Median","k":"s","x":3.8,"y":0.000151},{"c":"D","s":"Median","k":"s","x":4,"y":0.000106},{"c":"D","s":"Median","k":"s","x":4.2,"y":0.000081},
    {"c":"Dd","s":"Median","k":"d","x":0,"y":0.001362},{"c":"Dd","s":"Median","k":"d","x":0.5,"y":0.00111},{"c":"Dd","s":"Median","k":"d","x":1,"y":0.000903},{"c":"Dd","s":"Median","k":"d","x":1.5,"y":0.000694},{"c":"Dd","s":"Median","k":"d","x":2,"y":0.000549},{"c":"Dd","s":"Median","k":"d","x":2.5,"y":0.000434},{"c":"Dd","s":"Median","k":"d","x":3,"y":0.000354},{"c":"Dd","s":"Median","k":"d","x":3.5,"y":0.000288},{"c":"Dd","s":"Median","k":"d","x":4,"y":0.000228},{"c":"Dd","s":"Median","k":"d","x":4.5,"y":0.000185},{"c":"Dd","s":"Median","k":"d","x":5,"y":0.000119},{"c":"Dd","s":"Median","k":"d","x":5.2,"y":0.000081},
    {"c":"B2","s":"16/84 %","k":"s","x":0,"y":0.000503},{"c":"B2","s":"16/84 %","k":"s","x":0.3,"y":0.000422},{"c":"B2","s":"16/84 %","k":"s","x":0.5,"y":0.000365},{"c":"B2","s":"16/84 %","k":"s","x":0.7,"y":0.000306},{"c":"B2","s":"16/84 %","k":"s","x":1,"y":0.000257},{"c":"B2","s":"16/84 %","k":"s","x":1.3,"y":0.000202},{"c":"B2","s":"16/84 %","k":"s","x":1.5,"y":0.000151},{"c":"B2","s":"16/84 %","k":"s","x":1.7,"y":0.000106},{"c":"B2","s":"16/84 %","k":"s","x":1.8,"y":0.000081},
    {"c":"B2d","s":"16/84 %","k":"d","x":0,"y":0.000715},{"c":"B2d","s":"16/84 %","k":"d","x":0.4,"y":0.000582},{"c":"B2d","s":"16/84 %","k":"d","x":0.8,"y":0.00046},{"c":"B2d","s":"16/84 %","k":"d","x":1.2,"y":0.000344},{"c":"B2d","s":"16/84 %","k":"d","x":1.6,"y":0.000215},{"c":"B2d","s":"16/84 %","k":"d","x":2,"y":0.00017},{"c":"B2d","s":"16/84 %","k":"d","x":2.4,"y":0.000127},{"c":"B2d","s":"16/84 %","k":"d","x":2.8,"y":0.000081},
    {"c":"G2d","s":"2.5/97.5 %","k":"d","x":0,"y":0.000235},{"c":"G2d","s":"2.5/97.5 %","k":"d","x":0.5,"y":0.000175},{"c":"G2d","s":"2.5/97.5 %","k":"d","x":1,"y":0.000127},{"c":"G2d","s":"2.5/97.5 %","k":"d","x":1.3,"y":0.000081}
  ]
},
"columns": 2,
"spacing": {"row": 87, "column": 86},
"bounds": "flush",
"resolve": {"scale": {"color": "independent"}, "legend": {"color": "independent"}},
"concat": [
  {
    "width": 378, "height": 283,
    "title": {"text": "Monte-Carlo uncertainity in depth exceedance-rates:", "subtitle": "Example of logic-tree mean curves"},
    "layer": [
      {"data": {"name": "grid"}, "mark": {"type": "rule", "color": "#d6d6d6", "strokeDash": [2, 2], "strokeWidth": 1},
       "encoding": {"x": {"field": "x", "type": "quantitative", "scale": {"domain": [-0.3, 10.45], "nice": false, "zero": false}}}},
      {"data": {"name": "hl"}, "mark": {"type": "rule", "color": "#f3d69b", "strokeWidth": 1.6},
       "encoding": {"y": {"field": "y", "type": "quantitative", "scale": {"type": "log", "domain": [0.00008318, 0.012023], "nice": false}}}},
      {"data": {"name": "xl"}, "mark": {"type": "rule", "color": "#222", "strokeWidth": 1},
       "encoding": {"x": {"field": "x", "type": "quantitative", "scale": {"domain": [-0.3, 10.45], "nice": false, "zero": false}}, "x2": {"field": "x2"},
                    "y": {"datum": 0.00008318, "type": "quantitative", "scale": {"type": "log", "domain": [0.00008318, 0.012023], "nice": false}}}},
      {"data": {"name": "a"}, "transform": [{"filter": "datum.k == 's'"}], "mark": {"type": "line", "clip": true},
       "encoding": {
         "x": {"field": "x", "type": "quantitative", "scale": {"domain": [-0.3, 10.45], "nice": false, "zero": false},
               "axis": {"values": [0, 2, 4, 6, 8, 10], "title": "Tsunami inundation depth (m)", "domain": false, "tickSize": 5, "labelFontSize": 16, "labelPadding": -1, "titleFontSize": 19, "titlePadding": 0, "labelFlush": false}},
         "y": {"field": "y", "type": "quantitative", "scale": {"type": "log", "domain": [0.00008318, 0.012023], "nice": false},
               "axis": {"values": [0.00009, 0.0001, 0.0002, 0.0003, 0.0004, 0.0005, 0.0006, 0.0007, 0.0008, 0.0009, 0.001, 0.002, 0.003, 0.004, 0.005, 0.006, 0.007, 0.008, 0.009, 0.01],
                        "labelExpr": "datum.value == 0.01 ? '1/100' : datum.value == 0.001 ? '1/1000' : datum.value == 0.0001 ? '1/10000' : ''",
                        "labelAngle": 270, "labelAlign": "center", "labelBaseline": "bottom", "labelFontSize": 16, "labelPadding": 2, "tickSize": 5, "labelOverlap": false, "labelFlush": false,
                        "title": "Mean exceedances per year", "titleFontSize": 19, "titlePadding": 19}},
         "color": {"field": "s", "type": "nominal", "scale": {"domain": ["m", "u", "g"], "range": ["#000000", "#e8553f", "#7be06b"]},
                   "legend": {"orient": "none", "legendX": 28, "legendY": 7.5, "title": null, "clipHeight": 22, "labelOffset": 16,
                              "labelExpr": "datum.label == 'm' ? '50% unsegmented, 50% union-of-segments' : datum.label == 'u' ? '100% unsegmented' : '100% union-of-segments'"}},
         "strokeWidth": {"condition": {"test": "datum.s == 'm'", "value": 2.6}, "value": 2},
         "detail": {"field": "c"}
       }},
      {"data": {"name": "a"}, "transform": [{"filter": "datum.k == 'd'"}], "mark": {"type": "line", "strokeWidth": 1, "strokeDash": [4, 3], "clip": true},
       "encoding": {
         "x": {"field": "x", "type": "quantitative", "scale": {"domain": [-0.3, 10.45], "nice": false, "zero": false}},
         "y": {"field": "y", "type": "quantitative", "scale": {"type": "log", "domain": [0.00008318, 0.012023], "nice": false}},
         "color": {"field": "s", "type": "nominal", "scale": {"domain": ["m", "u", "g"], "range": ["#000000", "#e8553f", "#7be06b"]}, "legend": null},
         "detail": {"field": "c"}
       }},
      {"data": {"name": "txt"}, "transform": [{"filter": "datum.p == 'a'"}], "mark": {"type": "text", "align": "left", "baseline": "middle", "fontSize": 17.5, "font": "Liberation Serif", "color": "#222"},
       "encoding": {"x": {"field": "x", "type": "quantitative", "scale": {"domain": [-0.3, 10.45], "nice": false, "zero": false}},
                    "y": {"field": "y", "type": "quantitative", "scale": {"type": "log", "domain": [0.00008318, 0.012023], "nice": false}},
                    "text": {"field": "t"}}},
      {"data": {"name": "lab"}, "transform": [{"filter": "datum.p == 'a'"}], "mark": {"type": "text", "align": "center", "baseline": "middle", "fontSize": 19, "font": "Liberation Sans", "color": "#111"},
       "encoding": {"x": {"field": "x", "type": "quantitative", "scale": {"domain": [-0.3, 10.45], "nice": false, "zero": false}},
                    "y": {"field": "y", "type": "quantitative", "scale": {"type": "log", "domain": [0.00008318, 0.012023], "nice": false}},
                    "text": {"field": "t"}}}
    ]
  },
  {
    "width": 378, "height": 283,
    "title": {"text": "Epistemic uncertainty in depth exceedance-rates:", "subtitle": "50% Unsegmented, 50% Union-of-segments"},
    "layer": [
      {"data": {"name": "grid"}, "mark": {"type": "rule", "color": "#d6d6d6", "strokeDash": [2, 2], "strokeWidth": 1},
       "encoding": {"x": {"field": "x", "type": "quantitative", "scale": {"domain": [-0.3, 10.45], "nice": false, "zero": false}}}},
      {"data": {"name": "hl"}, "mark": {"type": "rule", "color": "#f3d69b", "strokeWidth": 1.6},
       "encoding": {"y": {"field": "y", "type": "quantitative", "scale": {"type": "log", "domain": [0.00008318, 0.012023], "nice": false}}}},
      {"data": {"name": "xl"}, "mark": {"type": "rule", "color": "#222", "strokeWidth": 1},
       "encoding": {"x": {"field": "x", "type": "quantitative", "scale": {"domain": [-0.3, 10.45], "nice": false, "zero": false}}, "x2": {"field": "x2"},
                    "y": {"datum": 0.00008318, "type": "quantitative", "scale": {"type": "log", "domain": [0.00008318, 0.012023], "nice": false}}}},
      {"data": {"name": "b"}, "transform": [{"filter": "datum.k == 's'"}], "mark": {"type": "line", "clip": true},
       "encoding": {
         "x": {"field": "x", "type": "quantitative", "scale": {"domain": [-0.3, 10.45], "nice": false, "zero": false},
               "axis": {"values": [0, 2, 4, 6, 8, 10], "title": "Tsunami inundation depth (m)", "domain": false, "tickSize": 5, "labelFontSize": 16, "labelPadding": -1, "titleFontSize": 19, "titlePadding": 0, "labelFlush": false}},
         "y": {"field": "y", "type": "quantitative", "scale": {"type": "log", "domain": [0.00008318, 0.012023], "nice": false},
               "axis": {"values": [0.00009, 0.0001, 0.0002, 0.0003, 0.0004, 0.0005, 0.0006, 0.0007, 0.0008, 0.0009, 0.001, 0.002, 0.003, 0.004, 0.005, 0.006, 0.007, 0.008, 0.009, 0.01],
                        "labelExpr": "datum.value == 0.01 ? '1/100' : datum.value == 0.001 ? '1/1000' : datum.value == 0.0001 ? '1/10000' : ''",
                        "labelAngle": 270, "labelAlign": "center", "labelBaseline": "bottom", "labelFontSize": 16, "labelPadding": 2, "tickSize": 5, "labelOverlap": false, "labelFlush": false,
                        "title": "Mean exceedances per year", "titleFontSize": 19, "titlePadding": 19}},
         "color": {"field": "s", "type": "nominal", "scale": {"domain": ["Mean", "Median", "16/84 %", "2.5/97.5 %"], "range": ["#000000", "#a8402f", "#2b20c9", "#74e065"]},
                   "legend": {"orient": "none", "legendX": 247, "legendY": 101.3, "title": null, "clipHeight": 20.3, "labelOffset": 15}},
         "strokeWidth": {"condition": {"test": "datum.s == 'Mean'", "value": 2.6}, "value": 2},
         "detail": {"field": "c"}
       }},
      {"data": {"name": "b"}, "transform": [{"filter": "datum.k == 'd'"}], "mark": {"type": "line", "strokeWidth": 1, "strokeDash": [4, 3], "clip": true},
       "encoding": {
         "x": {"field": "x", "type": "quantitative", "scale": {"domain": [-0.3, 10.45], "nice": false, "zero": false}},
         "y": {"field": "y", "type": "quantitative", "scale": {"type": "log", "domain": [0.00008318, 0.012023], "nice": false}},
         "color": {"field": "s", "type": "nominal", "scale": {"domain": ["Mean", "Median", "16/84 %", "2.5/97.5 %"], "range": ["#000000", "#a8402f", "#2b20c9", "#74e065"]}, "legend": null},
         "detail": {"field": "c"}
       }},
      {"data": {"name": "txt"}, "transform": [{"filter": "datum.p == 'b'"}], "mark": {"type": "text", "align": "left", "baseline": "middle", "fontSize": 17.5, "font": "Liberation Serif", "color": "#222"},
       "encoding": {"x": {"field": "x", "type": "quantitative", "scale": {"domain": [-0.3, 10.45], "nice": false, "zero": false}},
                    "y": {"field": "y", "type": "quantitative", "scale": {"type": "log", "domain": [0.00008318, 0.012023], "nice": false}},
                    "text": {"field": "t"}}},
      {"data": {"name": "lab"}, "transform": [{"filter": "datum.p == 'b'"}], "mark": {"type": "text", "align": "center", "baseline": "middle", "fontSize": 19, "font": "Liberation Sans", "color": "#111"},
       "encoding": {"x": {"field": "x", "type": "quantitative", "scale": {"domain": [-0.3, 10.45], "nice": false, "zero": false}},
                    "y": {"field": "y", "type": "quantitative", "scale": {"type": "log", "domain": [0.00008318, 0.012023], "nice": false}},
                    "text": {"field": "t"}}}
    ]
  },
  {
    "width": 378, "height": 283,
    "title": {"text": "Epistemic uncertainty in depth exceedance-rates:", "subtitle": "100% Unsegmented"},
    "layer": [
      {"data": {"name": "grid"}, "mark": {"type": "rule", "color": "#d6d6d6", "strokeDash": [2, 2], "strokeWidth": 1},
       "encoding": {"x": {"field": "x", "type": "quantitative", "scale": {"domain": [-0.3, 10.45], "nice": false, "zero": false}}}},
      {"data": {"name": "hl"}, "mark": {"type": "rule", "color": "#f3d69b", "strokeWidth": 1.6},
       "encoding": {"y": {"field": "y", "type": "quantitative", "scale": {"type": "log", "domain": [0.00008318, 0.012023], "nice": false}}}},
      {"data": {"name": "xl"}, "mark": {"type": "rule", "color": "#222", "strokeWidth": 1},
       "encoding": {"x": {"field": "x", "type": "quantitative", "scale": {"domain": [-0.3, 10.45], "nice": false, "zero": false}}, "x2": {"field": "x2"},
                    "y": {"datum": 0.00008318, "type": "quantitative", "scale": {"type": "log", "domain": [0.00008318, 0.012023], "nice": false}}}},
      {"data": {"name": "c"}, "mark": {"type": "line", "clip": true},
       "encoding": {
         "x": {"field": "x", "type": "quantitative", "scale": {"domain": [-0.3, 10.45], "nice": false, "zero": false},
               "axis": {"values": [0, 2, 4, 6, 8, 10], "title": "Tsunami inundation depth (m)", "domain": false, "tickSize": 5, "labelFontSize": 16, "labelPadding": -1, "titleFontSize": 19, "titlePadding": 0, "labelFlush": false}},
         "y": {"field": "y", "type": "quantitative", "scale": {"type": "log", "domain": [0.00008318, 0.012023], "nice": false},
               "axis": {"values": [0.00009, 0.0001, 0.0002, 0.0003, 0.0004, 0.0005, 0.0006, 0.0007, 0.0008, 0.0009, 0.001, 0.002, 0.003, 0.004, 0.005, 0.006, 0.007, 0.008, 0.009, 0.01],
                        "labelExpr": "datum.value == 0.01 ? '1/100' : datum.value == 0.001 ? '1/1000' : datum.value == 0.0001 ? '1/10000' : ''",
                        "labelAngle": 270, "labelAlign": "center", "labelBaseline": "bottom", "labelFontSize": 16, "labelPadding": 2, "tickSize": 5, "labelOverlap": false, "labelFlush": false,
                        "title": "Mean exceedances per year", "titleFontSize": 19, "titlePadding": 19}},
         "color": {"field": "s", "type": "nominal", "scale": {"domain": ["Mean", "Median", "16/84 %", "2.5/97.5 %"], "range": ["#000000", "#a8402f", "#2b20c9", "#74e065"]},
                   "legend": {"orient": "none", "legendX": 248, "legendY": 102.4, "title": null, "clipHeight": 20.3, "labelOffset": 17}},
         "strokeWidth": {"condition": {"test": "datum.s == 'Mean'", "value": 2.6}, "value": 2},
         "detail": {"field": "c"}
       }},
      {"data": {"name": "lab"}, "transform": [{"filter": "datum.p == 'c'"}], "mark": {"type": "text", "align": "center", "baseline": "middle", "fontSize": 19, "font": "Liberation Sans", "color": "#111"},
       "encoding": {"x": {"field": "x", "type": "quantitative", "scale": {"domain": [-0.3, 10.45], "nice": false, "zero": false}},
                    "y": {"field": "y", "type": "quantitative", "scale": {"type": "log", "domain": [0.00008318, 0.012023], "nice": false}},
                    "text": {"field": "t"}}}
    ]
  },
  {
    "width": 378, "height": 283,
    "title": {"text": "Epistemic uncertainty in depth exceedance-rates:", "subtitle": "100% Union-of-segments"},
    "layer": [
      {"data": {"name": "grid"}, "mark": {"type": "rule", "color": "#d6d6d6", "strokeDash": [2, 2], "strokeWidth": 1},
       "encoding": {"x": {"field": "x", "type": "quantitative", "scale": {"domain": [-0.3, 10.45], "nice": false, "zero": false}}}},
      {"data": {"name": "hl"}, "mark": {"type": "rule", "color": "#f3d69b", "strokeWidth": 1.6},
       "encoding": {"y": {"field": "y", "type": "quantitative", "scale": {"type": "log", "domain": [0.00008318, 0.012023], "nice": false}}}},
      {"data": {"name": "xl"}, "mark": {"type": "rule", "color": "#222", "strokeWidth": 1},
       "encoding": {"x": {"field": "x", "type": "quantitative", "scale": {"domain": [-0.3, 10.45], "nice": false, "zero": false}}, "x2": {"field": "x2"},
                    "y": {"datum": 0.00008318, "type": "quantitative", "scale": {"type": "log", "domain": [0.00008318, 0.012023], "nice": false}}}},
      {"data": {"name": "d"}, "transform": [{"filter": "datum.k == 's'"}], "mark": {"type": "line", "clip": true},
       "encoding": {
         "x": {"field": "x", "type": "quantitative", "scale": {"domain": [-0.3, 10.45], "nice": false, "zero": false},
               "axis": {"values": [0, 2, 4, 6, 8, 10], "title": "Tsunami inundation depth (m)", "domain": false, "tickSize": 5, "labelFontSize": 16, "labelPadding": -1, "titleFontSize": 19, "titlePadding": 0, "labelFlush": false}},
         "y": {"field": "y", "type": "quantitative", "scale": {"type": "log", "domain": [0.00008318, 0.012023], "nice": false},
               "axis": {"values": [0.00009, 0.0001, 0.0002, 0.0003, 0.0004, 0.0005, 0.0006, 0.0007, 0.0008, 0.0009, 0.001, 0.002, 0.003, 0.004, 0.005, 0.006, 0.007, 0.008, 0.009, 0.01],
                        "labelExpr": "datum.value == 0.01 ? '1/100' : datum.value == 0.001 ? '1/1000' : datum.value == 0.0001 ? '1/10000' : ''",
                        "labelAngle": 270, "labelAlign": "center", "labelBaseline": "bottom", "labelFontSize": 16, "labelPadding": 2, "tickSize": 5, "labelOverlap": false, "labelFlush": false,
                        "title": "Mean exceedances per year", "titleFontSize": 19, "titlePadding": 19}},
         "color": {"field": "s", "type": "nominal", "scale": {"domain": ["Mean", "Median", "16/84 %", "2.5/97.5 %"], "range": ["#000000", "#a8402f", "#2b20c9", "#74e065"]},
                   "legend": {"orient": "none", "legendX": 247, "legendY": 102.4, "title": null, "clipHeight": 20.3, "labelOffset": 16}},
         "strokeWidth": {"condition": {"test": "datum.s == 'Mean'", "value": 2.6}, "value": 2},
         "detail": {"field": "c"}
       }},
      {"data": {"name": "d"}, "transform": [{"filter": "datum.k == 'd'"}], "mark": {"type": "line", "strokeWidth": 1, "strokeDash": [4, 3], "clip": true},
       "encoding": {
         "x": {"field": "x", "type": "quantitative", "scale": {"domain": [-0.3, 10.45], "nice": false, "zero": false}},
         "y": {"field": "y", "type": "quantitative", "scale": {"type": "log", "domain": [0.00008318, 0.012023], "nice": false}},
         "color": {"field": "s", "type": "nominal", "scale": {"domain": ["Mean", "Median", "16/84 %", "2.5/97.5 %"], "range": ["#000000", "#a8402f", "#2b20c9", "#74e065"]}, "legend": null},
         "detail": {"field": "c"}
       }},
      {"data": {"name": "txt"}, "transform": [{"filter": "datum.p == 'd'"}], "mark": {"type": "text", "align": "left", "baseline": "middle", "fontSize": 17.5, "font": "Liberation Serif", "color": "#222"},
       "encoding": {"x": {"field": "x", "type": "quantitative", "scale": {"domain": [-0.3, 10.45], "nice": false, "zero": false}},
                    "y": {"field": "y", "type": "quantitative", "scale": {"type": "log", "domain": [0.00008318, 0.012023], "nice": false}},
                    "text": {"field": "t"}}},
      {"data": {"name": "lab"}, "transform": [{"filter": "datum.p == 'd'"}], "mark": {"type": "text", "align": "center", "baseline": "middle", "fontSize": 19, "font": "Liberation Sans", "color": "#111"},
       "encoding": {"x": {"field": "x", "type": "quantitative", "scale": {"domain": [-0.3, 10.45], "nice": false, "zero": false}},
                    "y": {"field": "y", "type": "quantitative", "scale": {"type": "log", "domain": [0.00008318, 0.012023], "nice": false}},
                    "text": {"field": "t"}}}
    ]
  }
]
}
